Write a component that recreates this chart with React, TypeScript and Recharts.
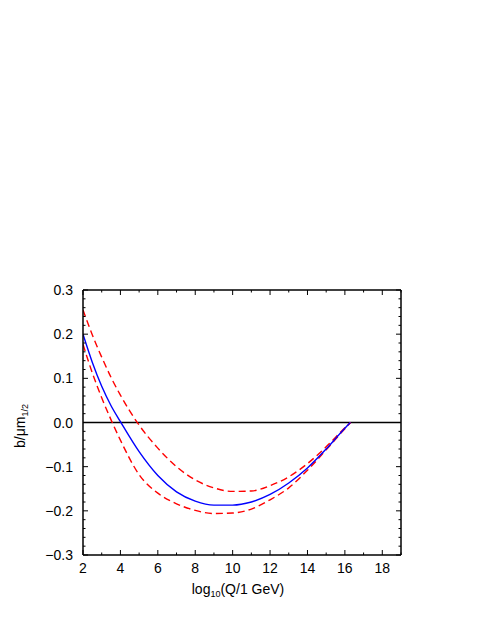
import { LineChart, Line, XAxis, YAxis, ReferenceLine, Label } from 'recharts';

const xValues = [2, 2.5, 3, 3.5, 4, 5, 6, 7, 8, 9, 10, 11, 12, 13, 14, 15, 16, 16.3];
const central = [0.2, 0.136, 0.082, 0.038, 0.002, -0.066, -0.12, -0.157, -0.178, -0.187, -0.187, -0.18, -0.163, -0.137, -0.103, -0.06, -0.013, 0];
const upper = [0.255, 0.198, 0.148, 0.102, 0.062, -0.006, -0.058, -0.1, -0.13, -0.148, -0.156, -0.155, -0.143, -0.123, -0.093, -0.055, -0.012, 0];
const lower = [0.177, 0.112, 0.056, 0.006, -0.04, -0.118, -0.16, -0.184, -0.199, -0.206, -0.205, -0.196, -0.175, -0.148, -0.108, -0.062, -0.014, 0];

const xTicks = [2, 3, 4, 5, 6, 7, 8, 9, 10, 11, 12, 13, 14, 15, 16, 17, 18, 19];
const xLabels = [2, 4, 6, 8, 10, 12, 14, 16, 18];
const yTicks = Array.from({ length: 31 }, (_, i) => Math.round(-30 + i * 2) / 100);

const data = xValues.map((x, i) => ({ x, central: central[i], upper: upper[i], lower: lower[i] }));

const FONT = '"Liberation Sans", Arial, Helvetica, sans-serif';
const MAJOR = 5;
const MINOR = 2.5;

const isMajorY = (v: number) => Math.round(v * 100) % 10 === 0;
const fmtY = (v: number) => {
  const s = Math.abs(v).toFixed(1);
  return v < -1e-9 ? '\u2212' + s : s;
};

const BottomTick = (props: any) => {
  const { x, y, payload } = props;
  const v = payload.value;
  const labelled = xLabels.includes(v);
  const len = v % 2 === 0 ? MAJOR : MINOR;
  return (
    <g>
      <line x1={x} y1={y} x2={x} y2={y - len} stroke="#000" strokeWidth={1} />
      {labelled && (
        <text x={x} y={y + 18} textAnchor="middle" fontSize={14} fontFamily={FONT} fill="#000">
          {v}
        </text>
      )}
    </g>
  );
};

const TopTick = (props: any) => {
  const { x, y, payload } = props;
  const len = payload.value % 2 === 0 ? MAJOR : MINOR;
  return <line x1={x} y1={y} x2={x} y2={y + len} stroke="#000" strokeWidth={1} />;
};

const LeftTick = (props: any) => {
  const { x, y, payload } = props;
  const v = payload.value;
  const major = isMajorY(v);
  return (
    <g>
      <line x1={x} y1={y} x2={x + (major ? MAJOR : MINOR)} y2={y} stroke="#000" strokeWidth={1} />
      {major && (
        <text x={x - 10} y={y + 5} textAnchor="end" fontSize={14} fontFamily={FONT} fill="#000">
          {fmtY(v)}
        </text>
      )}
    </g>
  );
};

const RightTick = (props: any) => {
  const { x, y, payload } = props;
  const len = isMajorY(payload.value) ? MAJOR : MINOR;
  return <line x1={x} y1={y} x2={x - len} y2={y} stroke="#000" strokeWidth={1} />;
};

const XTitle = () => (
  <text x={238} y={594} textAnchor="middle" fontSize={14} fontFamily={FONT} fill="#000">
    log
    <tspan fontSize={9} dy={3}>10</tspan>
    <tspan dy={-3}>(Q/1 GeV)</tspan>
  </text>
);

const YTitle = () => (
  <text transform="translate(25,426) rotate(-90)" textAnchor="middle" fontSize={14} fontFamily={FONT} fill="#000">
    b/μm
    <tspan fontSize={9} dy={3}>1/2</tspan>
  </text>
);

const App: React.FC = () => {
  return (
    <div style={{ position: 'absolute', left: 0, top: 0, width: 485, height: 627, background: '#fff' }}>
      <LineChart width={485} height={627} data={data} margin={{ top: 289, right: 83, bottom: 71, left: 82 }}>
        <XAxis
          xAxisId="b"
          dataKey="x"
          type="number"
          domain={[2, 19]}
          ticks={xTicks}
          allowDataOverflow
          height={1}
          tickSize={0}
          tickMargin={0}
          tickLine={false}
          interval={0}
          axisLine={{ stroke: '#000', strokeWidth: 1.5 }}
          tick={<BottomTick />}
        >
          <Label content={<XTitle />} />
        </XAxis>
        <XAxis
          xAxisId="t"
          orientation="top"
          dataKey="x"
          type="number"
          domain={[2, 19]}
          ticks={xTicks}
          allowDataOverflow
          height={1}
          tickSize={0}
          tickMargin={0}
          tickLine={false}
          interval={0}
          axisLine={{ stroke: '#000', strokeWidth: 1.5 }}
          tick={<TopTick />}
        />
        <YAxis
          yAxisId="l"
          type="number"
          domain={[-0.3, 0.3]}
          ticks={yTicks}
          allowDataOverflow
          width={1}
          tickSize={0}
          tickMargin={0}
          tickLine={false}
          interval={0}
          axisLine={{ stroke: '#000', strokeWidth: 1.5 }}
          tick={<LeftTick />}
        >
          <Label content={<YTitle />} />
        </YAxis>
        <YAxis
          yAxisId="r"
          orientation="right"
          type="number"
          domain={[-0.3, 0.3]}
          ticks={yTicks}
          allowDataOverflow
          width={1}
          tickSize={0}
          tickMargin={0}
          tickLine={false}
          interval={0}
          axisLine={{ stroke: '#000', strokeWidth: 1.5 }}
          tick={<RightTick />}
        />
        <ReferenceLine xAxisId="b" yAxisId="l" y={0} stroke="#000" strokeWidth={1.3} />
        <Line
          xAxisId="b"
          yAxisId="l"
          type="monotone"
          dataKey="upper"
          stroke="#ff0000"
          strokeWidth={1.4}
          strokeDasharray="7 4"
          dot={false}
          isAnimationActive={false}
        />
        <Line
          xAxisId="b"
          yAxisId="l"
          type="monotone"
          dataKey="lower"
          stroke="#ff0000"
          strokeWidth={1.4}
          strokeDasharray="7 4"
          dot={false}
          isAnimationActive={false}
        />
        <Line
          xAxisId="b"
          yAxisId="l"
          type="monotone"
          dataKey="central"
          stroke="#0000ff"
          strokeWidth={1.4}
          dot={false}
          isAnimationActive={false}
        />
      </LineChart>
    </div>
  );
};

export default App;
